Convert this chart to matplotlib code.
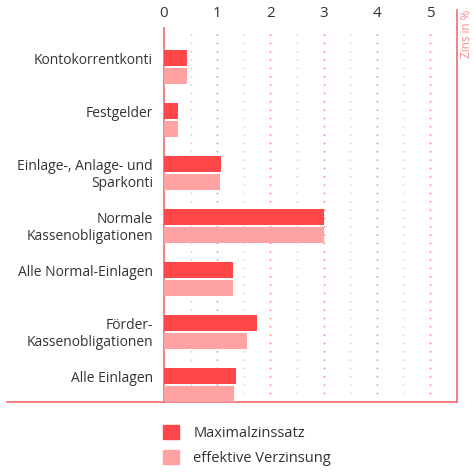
import matplotlib.pyplot as plt
import numpy as np
from matplotlib.patches import Patch
from matplotlib.lines import Line2D

plt.rcParams['font.family'] = ['Open Sans', 'DejaVu Sans']

categories = ['Kontokorrentkonti', 'Festgelder', 'Einlage-, Anlage- und\nSparkonti',
              'Normale\nKassenobligationen', 'Alle Normal-Einlagen',
              'Förder-\nKassenobligationen', 'Alle Einlagen']
maximal = [0.43, 0.26, 1.07, 3.00, 1.30, 1.75, 1.35]
effektiv = [0.43, 0.26, 1.05, 3.00, 1.30, 1.56, 1.32]
ticks = [0, 1, 2, 3, 4, 5]

c_max = '#FF474A'
c_eff = '#FFA2A3'
c_line = '#F26B6E'
c_text = '#333333'

fig = plt.figure(figsize=(4.74, 4.75), dpi=100)
ax = fig.add_axes([164 / 474, 73 / 475, (456.6 - 164) / 474, 374 / 475])

y = np.arange(len(categories))
h = 0.30
ax.barh(y - 0.17, maximal, height=h, color=c_max, zorder=3)
ax.barh(y + 0.17, effektiv, height=h, color=c_eff, zorder=3)

ax.set_xlim(0, 5.5)
ax.set_ylim(6.32, -0.736)

# gepunktete Gitterlinien
for v in np.arange(0.5, 5.51, 0.5):
    col = c_line if v == int(v) else '#F9B0B2'
    ax.axvline(v, color=col, linestyle=(0, (1, 5)), linewidth=1.0, zorder=1)

ax.xaxis.tick_top()
ax.set_xticks(ticks)
ax.set_xticklabels([str(t) for t in ticks], fontsize=11, color=c_text)
ax.tick_params(axis='x', length=0, pad=5)
# Beschriftung oben bündig mit dem Balkenpaar
ax.set_yticks(y - 0.26)
ax.set_yticklabels(categories, fontsize=10, color=c_text, ha='right', va='top', linespacing=1.2)
ax.tick_params(axis='y', length=0, pad=8)

ax.spines['top'].set_visible(False)
for s in ['left', 'right', 'bottom']:
    ax.spines[s].set_color(c_line)
    ax.spines[s].set_linewidth(1.2)

# Grundlinie nach links verlängert
fig.add_artist(Line2D([7 / 474, 164 / 474], [73 / 475, 73 / 475], color=c_line, linewidth=1.2))
# rechte Linie bis oben
fig.add_artist(Line2D([456.6 / 474, 456.6 / 474], [447 / 475, 465 / 475], color=c_line, linewidth=1.2))

fig.text(466 / 474, 465 / 475, 'Zins in %', rotation=90, ha='center', va='top',
         fontsize=8.5, color='#F58A8C')

handles = [Patch(color=c_max, label='Maximalzinssatz'),
           Patch(color=c_eff, label='effektive Verzinsung')]
fig.legend(handles=handles, loc='upper left', bbox_to_anchor=(157 / 474, 56 / 475),
           frameon=False, fontsize=10.5, handlelength=1.1, handleheight=1.1,
           handletextpad=1.0, labelspacing=0.6, labelcolor=c_text, borderaxespad=0)

fig.savefig('out.png', dpi=100)
